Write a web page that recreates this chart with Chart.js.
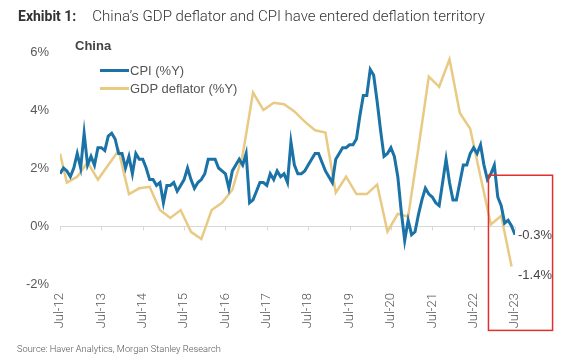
<!DOCTYPE html>
<html>
<head>
<meta charset="utf-8">
<script src="https://cdn.jsdelivr.net/npm/chart.js@4"></script>
<style>
  html, body { margin: 0; padding: 0; background: #fff; }
  #wrap { position: relative; width: 564px; height: 361px; overflow: hidden; }
  #chart { position: absolute; left: 0; top: 0; }
  .title { position: absolute; left: 18px; top: 7px; font: 300 15px Roboto, sans-serif; color: #333; white-space: nowrap; }
  .title b { font-weight: 700; font-size: 14px; margin-right: 16px; }
  .source { position: absolute; left: 17px; top: 343px; font: 300 9.3px Roboto, sans-serif; color: #555; }
  .panel { position: absolute; left: 75px; top: 38px; font: bold 13px "Liberation Sans", Arial, sans-serif; color: #444; }
  .legend { position: absolute; left: 100px; top: 62px; font: 13px "Liberation Sans", Arial, sans-serif; color: #555; }
  .legend div { height: 18px; line-height: 18px; white-space: nowrap; }
  .legend span { display: inline-block; width: 29px; height: 3px; vertical-align: middle; margin-right: 1px; position: relative; top: -1px; }
</style>
</head>
<body>
<div id="wrap">
  <canvas id="chart" width="564" height="361"></canvas>
  <div class="title"><b>Exhibit 1:</b>China’s GDP deflator and CPI have entered deflation territory</div>
  <div class="panel">China</div>
  <div class="legend" id="legend"></div>
  <div class="source">Source: Haver Analytics, Morgan Stanley Research</div>
</div>
<script>
// China CPI, %Y, monthly Jul-2012 .. Jul-2023
const cpiStart = '2012-07';
const cpiValues = [
  1.8, 2.0, 1.9, 1.7, 2.0, 2.5,
  2.0, 3.2, 2.1, 2.4, 2.1, 2.7, 2.7, 2.6, 3.1, 3.2, 3.0, 2.5,
  2.5, 2.0, 2.4, 1.8, 2.5, 2.3, 2.3, 2.0, 1.6, 1.6, 1.4, 1.5,
  0.8, 1.4, 1.4, 1.5, 1.2, 1.4, 1.6, 2.0, 1.6, 1.3, 1.5, 1.6,
  1.8, 2.3, 2.3, 2.3, 2.0, 1.9, 1.8, 1.3, 1.9, 2.1, 2.3, 2.1,
  2.5, 0.8, 0.9, 1.2, 1.5, 1.5, 1.4, 1.8, 1.6, 1.9, 1.7, 1.8,
  1.5, 2.9, 2.1, 1.8, 1.8, 1.9, 2.1, 2.3, 2.5, 2.5, 2.2, 1.9,
  1.7, 1.5, 2.3, 2.5, 2.7, 2.7, 2.8, 2.8, 3.0, 3.8, 4.5, 4.5,
  5.4, 5.2, 4.3, 3.3, 2.4, 2.5, 2.7, 2.4, 1.7, 0.5, -0.5, 0.2,
  -0.3, -0.2, 0.4, 0.9, 1.3, 1.1, 1.0, 0.8, 0.7, 1.5, 2.3, 1.5,
  0.9, 0.9, 1.5, 2.1, 2.1, 2.5, 2.7, 2.5, 2.8, 2.1, 1.6, 1.8,
  2.1, 1.0, 0.7, 0.1, 0.2, 0.0, -0.3
];

// China GDP deflator, %Y, quarterly
const gdpDates = [
  '2012-07', '2012-09', '2012-12',
  '2013-03', '2013-06', '2013-09', '2013-12',
  '2014-03', '2014-06', '2014-09', '2014-12',
  '2015-03', '2015-06', '2015-09', '2015-12',
  '2016-03', '2016-06', '2016-09', '2016-12',
  '2017-03', '2017-06', '2017-09', '2017-12',
  '2018-03', '2018-06', '2018-09', '2018-12',
  '2019-03', '2019-06', '2019-09', '2019-12',
  '2020-03', '2020-06', '2020-09', '2020-12',
  '2021-03', '2021-06', '2021-09', '2021-12',
  '2022-03', '2022-06', '2022-09', '2022-12',
  '2023-03', '2023-06'
];
const gdpValues = [
  2.5, 1.5, 1.7,
  2.2, 1.6, 2.1, 2.6,
  1.1, 1.3, 1.35, 0.55,
  0.28, 0.55, -0.2, -0.45,
  0.55, 0.8, 1.25, 2.45,
  4.6, 4.0, 4.25, 4.2,
  3.95, 3.6, 3.3, 3.22,
  1.15, 1.7, 1.1, 1.1,
  1.43, -0.19, 0.42, 0.32,
  2.7, 5.15, 4.8, 5.75,
  3.9, 3.35, 1.7, 0.05,
  0.35, -1.4
];

const xTickLabels = ['Jul-12', 'Jul-13', 'Jul-14', 'Jul-15', 'Jul-16', 'Jul-17',
                     'Jul-18', 'Jul-19', 'Jul-20', 'Jul-21', 'Jul-22', 'Jul-23'];
const yTicks = [-2, 0, 2, 4, 6];
const seriesNames = ['CPI (%Y)', 'GDP deflator (%Y)'];
const seriesColors = ['#1a72a6', '#e8ca84'];

// red highlight box, in axis units (months from Jul-12, %)
const boxX = [124.3, 142.9];
const boxY = [1.75, -3.6];

function monthIndex(d) {
  const [y, m] = d.split('-').map(Number);
  const [y0, m0] = cpiStart.split('-').map(Number);
  return (y - y0) * 12 + (m - m0);
}

const cpiData = cpiValues.map((v, i) => ({ x: i, y: v }));
const gdpData = gdpDates.map((d, i) => ({ x: monthIndex(d), y: gdpValues[i] }));

document.getElementById('legend').innerHTML = seriesNames.map((n, i) =>
  `<div><span style="background:${seriesColors[i]}"></span>${n}</div>`).join('');

const extras = {
  id: 'extras',
  beforeDatasetsDraw(chart) {
    const { ctx, scales: { x, y } } = chart;
    const zy = Math.round(y.getPixelForValue(0)) + 0.5;
    ctx.save();
    ctx.strokeStyle = '#d9d9d9';
    ctx.lineWidth = 1;
    x.ticks.forEach(t => {
      const px = Math.round(x.getPixelForValue(t.value)) + 0.5;
      ctx.beginPath();
      ctx.moveTo(px, zy);
      ctx.lineTo(px, zy + 4);
      ctx.stroke();
    });
    ctx.restore();
  },
  afterDatasetsDraw(chart) {
    const { ctx, scales: { x, y } } = chart;
    ctx.save();
    // end labels
    ctx.font = '13px "Liberation Sans", Arial, sans-serif';
    ctx.fillStyle = '#444';
    ctx.textBaseline = 'middle';
    ctx.textAlign = 'left';
    const offsets = [1, 9];
    chart.data.datasets.forEach((ds, i) => {
      const last = ds.data[ds.data.length - 1];
      const py = y.getPixelForValue(last.y);
      ctx.fillText(last.y.toFixed(1) + '%', chart.chartArea.right + 3, py + offsets[i]);
    });
    // highlight box
    const x0 = x.getPixelForValue(boxX[0]), x1 = x.getPixelForValue(boxX[1]);
    const y0 = y.getPixelForValue(boxY[0]), y1 = y.getPixelForValue(boxY[1]);
    ctx.strokeStyle = '#e0312f';
    ctx.lineWidth = 1.5;
    ctx.strokeRect(x0, y0, x1 - x0, y1 - y0);
    ctx.restore();
  }
};

new Chart(document.getElementById('chart'), {
  type: 'line',
  data: {
    datasets: [
      { label: seriesNames[0], data: cpiData, borderColor: seriesColors[0], borderWidth: 3, pointRadius: 0, tension: 0 },
      { label: seriesNames[1], data: gdpData, borderColor: seriesColors[1], borderWidth: 2.5, pointRadius: 0, tension: 0 }
    ]
  },
  plugins: [extras],
  options: {
    responsive: false,
    animation: false,
    layout: { padding: { left: 0, right: 49, top: 52, bottom: 27 } },
    plugins: { legend: { display: false }, tooltip: { enabled: false } },
    scales: {
      x: {
        type: 'linear',
        min: 0,
        max: 132,
        afterFit: s => { s.height = 50; },
        afterBuildTicks: s => { s.ticks = xTickLabels.map((l, i) => ({ value: i * 12 })); },
        grid: { display: false, drawTicks: false },
        border: { display: false },
        ticks: {
          autoSkip: false,
          minRotation: 90,
          maxRotation: 90,
          padding: 9,
          color: '#555',
          font: { family: 'Roboto', weight: 300, size: 13 },
          callback: v => xTickLabels[v / 12]
        }
      },
      y: {
        min: -2,
        max: 6,
        afterFit: s => { s.width = 60; },
        afterBuildTicks: s => { s.ticks = yTicks.map(v => ({ value: v })); },
        grid: {
          drawTicks: false,
          color: c => c.tick && c.tick.value === 0 ? '#d9d9d9' : 'rgba(0,0,0,0)'
        },
        border: { display: false },
        ticks: {
          padding: 11,
          color: '#595959',
          font: { family: '"Liberation Sans", Arial, sans-serif', size: 13 },
          callback: v => v + '%'
        }
      }
    }
  }
});
</script>
</body>
</html>
